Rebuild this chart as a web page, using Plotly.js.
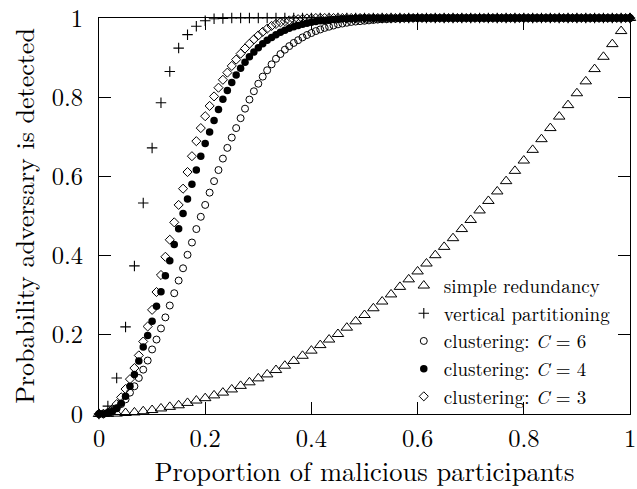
<!DOCTYPE html>
<html><head><meta charset="utf-8">
<script src="https://cdn.plot.ly/plotly-3.0.1.min.js"></script>
<style>html,body{margin:0;padding:0;background:#fff;}#chart{width:637px;height:489px;}</style>
</head><body><div id="chart"></div>
<script>
// x positions (proportion of malicious participants)
const xCoarse = [0, 0.0167, 0.0333, 0.05, 0.0667, 0.0833, 0.1, 0.1167, 0.1333, 0.15,
  0.1667, 0.1833, 0.2, 0.2167, 0.2333, 0.25, 0.2667, 0.2833, 0.3, 0.3167,
  0.3333, 0.35, 0.3667, 0.3833, 0.4, 0.4167, 0.4333, 0.45, 0.4667, 0.4833,
  0.5, 0.5167, 0.5333, 0.55, 0.5667, 0.5833, 0.6, 0.6167, 0.6333, 0.65,
  0.6667, 0.6833, 0.7, 0.7167, 0.7333, 0.75, 0.7667, 0.7833, 0.8, 0.8167,
  0.8333, 0.85, 0.8667, 0.8833, 0.9, 0.9167, 0.9333, 0.95, 0.9667, 0.9833, 1];

const xFine = [0, 0.0083, 0.0167, 0.025, 0.0333, 0.0417, 0.05, 0.0583, 0.0667, 0.075,
  0.0833, 0.0917, 0.1, 0.1083, 0.1167, 0.125, 0.1333, 0.1417, 0.15, 0.1583,
  0.1667, 0.175, 0.1833, 0.1917, 0.2, 0.2083, 0.2167, 0.225, 0.2333, 0.2417,
  0.25, 0.2583, 0.2667, 0.275, 0.2833, 0.2917, 0.3, 0.3083, 0.3167, 0.325,
  0.3333, 0.3417, 0.35, 0.3583, 0.3667, 0.375, 0.3833, 0.3917, 0.4, 0.4083,
  0.4167, 0.425, 0.4333, 0.4417, 0.45, 0.4583, 0.4667, 0.475, 0.4833, 0.4917,
  0.5, 0.5083, 0.5167, 0.525, 0.5333, 0.5417, 0.55, 0.5583, 0.5667, 0.575,
  0.5833, 0.5917, 0.6, 0.6083, 0.6167, 0.625, 0.6333, 0.6417, 0.65, 0.6583,
  0.6667, 0.675, 0.6833, 0.6917, 0.7, 0.7083, 0.7167, 0.725, 0.7333, 0.7417,
  0.75, 0.7583, 0.7667, 0.775, 0.7833, 0.7917, 0.8, 0.8083, 0.8167, 0.825,
  0.8333, 0.8417, 0.85, 0.8583, 0.8667, 0.875, 0.8833, 0.8917, 0.9, 0.9083,
  0.9167, 0.925, 0.9333, 0.9417, 0.95, 0.9583, 0.9667, 0.975, 0.9833, 0.9917, 1];

// series values (probability adversary is detected)
const ySimpleRedundancy = [0, 0.0003, 0.001, 0.0025, 0.004, 0.007, 0.01, 0.014, 0.018, 0.022,
  0.028, 0.034, 0.04, 0.047, 0.054, 0.062, 0.071, 0.08, 0.09, 0.1,
  0.111, 0.122, 0.134, 0.147, 0.16, 0.174, 0.188, 0.202, 0.218, 0.234,
  0.25, 0.267, 0.284, 0.302, 0.321, 0.34, 0.36, 0.38, 0.401, 0.422,
  0.444, 0.467, 0.49, 0.514, 0.538, 0.562, 0.588, 0.614, 0.64, 0.667,
  0.694, 0.722, 0.751, 0.78, 0.81, 0.84, 0.871, 0.902, 0.934, 0.967, 1];

const yVerticalPartitioning = [0, 0.02, 0.091, 0.22, 0.374, 0.533, 0.672, 0.786, 0.865, 0.924,
  0.958, 0.979, 0.993, 0.998, 0.999, 1, 1, 1, 1, 1,
  1, 1, 1, 1, 1, 1, 1, 1, 1, 1,
  1, 1, 1, 1, 1, 1, 1, 1, 1, 1,
  1, 1, 1, 1, 1, 1, 1, 1, 1, 1,
  1, 1, 1, 1, 1, 1, 1, 1, 1, 1, 1];

const yClusteringC6 = [0, 0.001, 0.003, 0.008, 0.015, 0.025, 0.037, 0.054, 0.07, 0.091,
  0.112, 0.135, 0.163, 0.188, 0.216, 0.244, 0.274, 0.305, 0.337, 0.368,
  0.402, 0.433, 0.467, 0.498, 0.528, 0.559, 0.588, 0.616, 0.645, 0.672,
  0.698, 0.722, 0.747, 0.771, 0.794, 0.815, 0.834, 0.852, 0.868, 0.883,
  0.897, 0.909, 0.92, 0.929, 0.937, 0.944, 0.951, 0.957, 0.962, 0.967,
  0.971, 0.975, 0.978, 0.981, 0.984, 0.986, 0.988, 0.99, 0.991, 0.992,
  0.993, 0.994, 0.995, 0.996, 0.997, 0.997, 0.998, 0.998, 0.999, 0.999,
  1, 1, 1, 1, 1, 1, 1, 1, 1, 1,
  1, 1, 1, 1, 1, 1, 1, 1, 1, 1,
  1, 1, 1, 1, 1, 1, 1, 1, 1, 1,
  1, 1, 1, 1, 1, 1, 1, 1, 1, 1,
  1, 1, 1, 1, 1, 1, 1, 1, 1, 1, 1];

const yClusteringC4 = [0, 0.0003, 0.002, 0.006, 0.014, 0.027, 0.045, 0.07, 0.1, 0.134,
  0.169, 0.198, 0.234, 0.272, 0.309, 0.349, 0.387, 0.428, 0.468, 0.506,
  0.543, 0.58, 0.616, 0.651, 0.683, 0.712, 0.741, 0.769, 0.795, 0.817,
  0.837, 0.856, 0.873, 0.888, 0.902, 0.914, 0.925, 0.935, 0.944, 0.951,
  0.958, 0.964, 0.969, 0.974, 0.978, 0.981, 0.984, 0.987, 0.989, 0.991,
  0.993, 0.994, 0.995, 0.996, 0.997, 0.998, 0.998, 0.999, 0.999, 1,
  1, 1, 1, 1, 1, 1, 1, 1, 1, 1,
  1, 1, 1, 1, 1, 1, 1, 1, 1, 1,
  1, 1, 1, 1, 1, 1, 1, 1, 1, 1,
  1, 1, 1, 1, 1, 1, 1, 1, 1, 1,
  1, 1, 1, 1, 1, 1, 1, 1, 1, 1,
  1, 1, 1, 1, 1, 1, 1, 1, 1, 1, 1];

const yClusteringC3 = [0, 0.0005, 0.004, 0.012, 0.025, 0.042, 0.063, 0.088, 0.116, 0.148,
  0.183, 0.221, 0.263, 0.308, 0.351, 0.397, 0.44, 0.484, 0.528, 0.569,
  0.611, 0.651, 0.689, 0.722, 0.752, 0.778, 0.802, 0.824, 0.844, 0.862,
  0.879, 0.895, 0.91, 0.923, 0.935, 0.946, 0.956, 0.965, 0.973, 0.98,
  0.985, 0.989, 0.992, 0.994, 0.996, 0.997, 0.998, 0.999, 0.999, 1,
  1, 1, 1, 1, 1, 1, 1, 1, 1, 1,
  1, 1, 1, 1, 1, 1, 1, 1, 1, 1,
  1, 1, 1, 1, 1, 1, 1, 1, 1, 1,
  1, 1, 1, 1, 1, 1, 1, 1, 1, 1,
  1, 1, 1, 1, 1, 1, 1, 1, 1, 1,
  1, 1, 1, 1, 1, 1, 1, 1, 1, 1,
  1, 1, 1, 1, 1, 1, 1, 1, 1, 1, 1];

const seriesNames = ['simple redundancy', 'vertical partitioning',
  'clustering: <i>C</i> = 6', 'clustering: <i>C</i> = 4', 'clustering: <i>C</i> = 3'];

const tickVals = [0, 0.2, 0.4, 0.6, 0.8, 1];
const tickText = ['0', '0.2', '0.4', '0.6', '0.8', '1'];

const xTitle = 'Proportion of malicious participants';
const yTitle = 'Probability adversary is detected';

const SERIF = 'Latin Modern Roman';

const traces = [
  {x: xCoarse, y: ySimpleRedundancy, name: seriesNames[0],
   marker: {symbol: 'triangle-up-open', size: 10, color: '#000', line: {width: 1, color: '#000'}}},
  {x: xCoarse, y: yVerticalPartitioning, name: seriesNames[1],
   marker: {symbol: 'cross-thin-open', size: 7.5, color: '#000', line: {width: 1.1, color: '#000'}}},
  {x: xFine, y: yClusteringC6, name: seriesNames[2],
   marker: {symbol: 'circle-open', size: 7, color: '#000', line: {width: 1, color: '#000'}}},
  {x: xFine, y: yClusteringC4, name: seriesNames[3],
   marker: {symbol: 'circle', size: 7.5, color: '#000', line: {width: 0}}},
  {x: xFine, y: yClusteringC3, name: seriesNames[4],
   marker: {symbol: 'diamond-open', size: 7, color: '#000', line: {width: 1, color: '#000'}}}
].map(t => Object.assign({type: 'scatter', mode: 'markers', cliponaxis: false, hoverinfo: 'skip'}, t));

const axisCommon = {
  range: [0, 1], tickvals: tickVals, ticktext: tickText,
  ticks: 'inside', ticklen: 12, tickwidth: 1, tickcolor: '#000',
  showline: true, linecolor: '#000', linewidth: 1, mirror: 'ticks',
  showgrid: false, zeroline: false, fixedrange: true,
  ticklabeloverflow: 'allow',
  tickfont: {family: SERIF, size: 24.5, color: '#000'}
};

const layout = {
  width: 637, height: 489,
  margin: {l: 99, r: 7, t: 18, b: 75, pad: 0},
  paper_bgcolor: '#fff', plot_bgcolor: '#fff',
  font: {family: SERIF, color: '#000'},
  showlegend: true,
  legend: {
    x: 0.574, xanchor: 'left', y: 0.372, yanchor: 'top',
    bgcolor: 'rgba(255,255,255,0)', borderwidth: 0,
    font: {family: SERIF, size: 19, color: '#000'},
    itemwidth: 30, tracegroupgap: 0
  },
  xaxis: Object.assign({}, axisCommon, {
    ticklabelstandoff: 3,
    title: {text: xTitle, font: {family: SERIF, size: 26.5, color: '#000'}, standoff: 9}
  }),
  yaxis: Object.assign({}, axisCommon, {
    ticklabelstandoff: 10,
    title: {text: yTitle, font: {family: SERIF, size: 26, color: '#000'}, standoff: 9}
  }),
  hovermode: false
};

Plotly.newPlot('chart', traces, layout, {staticPlot: true, displayModeBar: false});
</script>
</body></html>
